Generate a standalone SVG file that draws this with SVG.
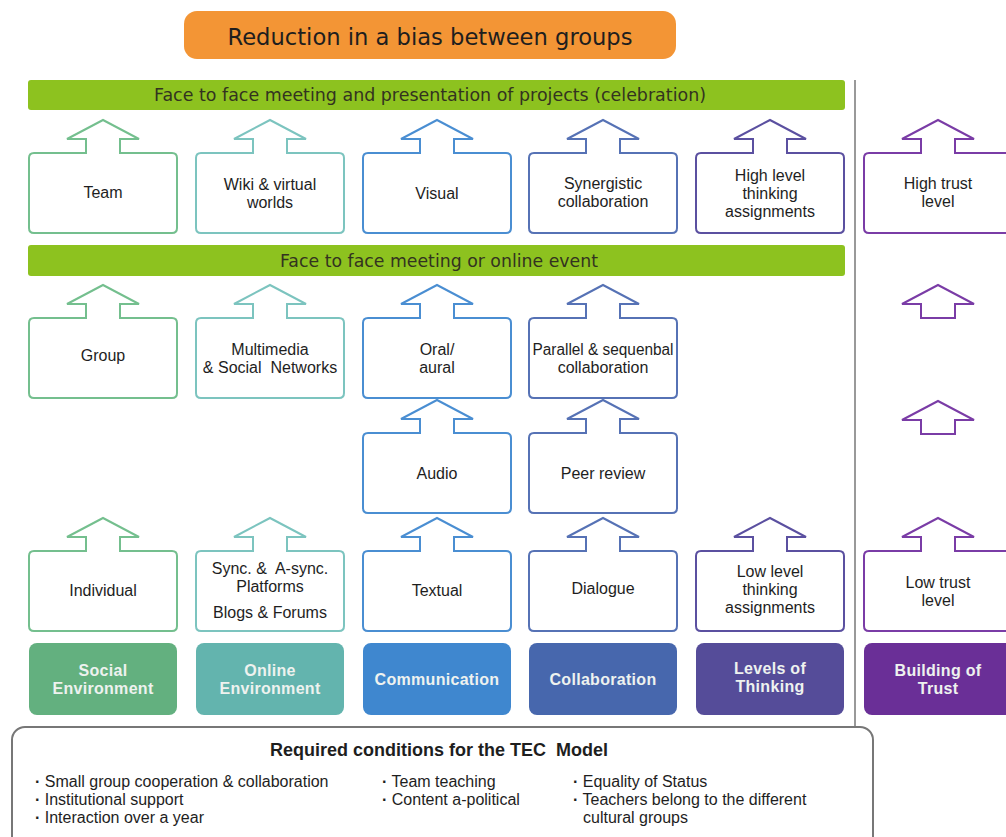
<svg xmlns="http://www.w3.org/2000/svg" width="1006" height="837" viewBox="0 0 1006 837">
<style>
.lbl{font-family:"Liberation Sans",Arial,sans-serif;font-size:16px;fill:#1e1e1e;text-anchor:middle}
.cat{font-family:"Liberation Sans",Arial,sans-serif;font-size:16px;font-weight:bold;fill:#eef2ef;text-anchor:middle;letter-spacing:0.3px}
.bar{font-family:"DejaVu Sans",Verdana,sans-serif;font-size:17px;fill:#33331f;text-anchor:middle}
.box{fill:#fff;stroke-width:2;stroke-linejoin:miter}
.c1{stroke:#74bf8e}.c2{stroke:#7cc4bf}.c3{stroke:#4a8ed2}.c4{stroke:#5672b5}.c5{stroke:#5b50a0}.c6{stroke:#7a3ca6}
.f1{fill:#63b07f}.f2{fill:#63b4ae}.f3{fill:#3f87cf}.f4{fill:#4767ad}.f5{fill:#554c99}.f6{fill:#6a2f97}
.cond{font-family:"Liberation Sans",Arial,sans-serif;font-size:16px;fill:#1e1e1e}
.bul{font-weight:bold}
</style>

<g id="title">
<rect x="184" y="11" width="492" height="48" rx="13" fill="#f39535"/>
<text x="430" y="45" font-family="DejaVu Sans, Verdana, sans-serif" font-size="23" fill="#1e1e1e" text-anchor="middle" textLength="405" lengthAdjust="spacingAndGlyphs">Reduction in a bias between groups</text>
</g>

<g id="bar-celebration">
<rect x="28" y="80" width="817" height="30" rx="3" fill="#8dc21f"/>
<text class="bar" x="430" y="101" textLength="552" lengthAdjust="spacingAndGlyphs">Face to face meeting and presentation of projects (celebration)</text>
</g>
<g id="bar-event">
<rect x="28" y="245" width="817" height="31" rx="3" fill="#8dc21f"/>
<text class="bar" x="439" y="267" textLength="318" lengthAdjust="spacingAndGlyphs">Face to face meeting or online event</text>
</g>

<line id="divider" x1="855" y1="80" x2="855" y2="727" stroke="#777" stroke-width="1.5"/>

<!-- Row 1 -->
<g id="team"><path class="box c1" d="M86,153 v-14 h-19 l36,-19 l36,19 h-19 v14 h52 q5,0 5,5 v70 q0,5 -5,5 h-138 q-5,0 -5,-5 v-70 q0,-5 5,-5 z"/><text class="lbl" x="103" y="198">Team</text></g>
<g id="wiki"><path class="box c2" d="M253,153 v-14 h-19 l36,-19 l36,19 h-19 v14 h52 q5,0 5,5 v70 q0,5 -5,5 h-138 q-5,0 -5,-5 v-70 q0,-5 5,-5 z"/><text class="lbl" x="270" y="190">Wiki &amp; virtual</text><text class="lbl" x="270" y="208">worlds</text></g>
<g id="visual"><path class="box c3" d="M420,153 v-14 h-19 l36,-19 l36,19 h-19 v14 h52 q5,0 5,5 v70 q0,5 -5,5 h-138 q-5,0 -5,-5 v-70 q0,-5 5,-5 z"/><text class="lbl" x="437" y="199">Visual</text></g>
<g id="synergistic"><path class="box c4" d="M586,153 v-14 h-19 l36,-19 l36,19 h-19 v14 h52 q5,0 5,5 v70 q0,5 -5,5 h-138 q-5,0 -5,-5 v-70 q0,-5 5,-5 z"/><text class="lbl" x="603" y="189">Synergistic</text><text class="lbl" x="603" y="207">collaboration</text></g>
<g id="high-thinking"><path class="box c5" d="M753,153 v-14 h-19 l36,-19 l36,19 h-19 v14 h52 q5,0 5,5 v70 q0,5 -5,5 h-138 q-5,0 -5,-5 v-70 q0,-5 5,-5 z"/><text class="lbl" x="770" y="181">High level</text><text class="lbl" x="770" y="199">thinking</text><text class="lbl" x="770" y="217">assignments</text></g>
<g id="high-trust"><path class="box c6" d="M921,153 v-14 h-19 l36,-19 l36,19 h-19 v14 h52 q5,0 5,5 v70 q0,5 -5,5 h-138 q-5,0 -5,-5 v-70 q0,-5 5,-5 z"/><text class="lbl" x="938" y="189">High trust</text><text class="lbl" x="938" y="207">level</text></g>

<!-- Row 2 -->
<g id="group"><path class="box c1" d="M86,318 v-14 h-19 l36,-19 l36,19 h-19 v14 h52 q5,0 5,5 v70 q0,5 -5,5 h-138 q-5,0 -5,-5 v-70 q0,-5 5,-5 z"/><text class="lbl" x="103" y="361">Group</text></g>
<g id="multimedia"><path class="box c2" d="M253,318 v-14 h-19 l36,-19 l36,19 h-19 v14 h52 q5,0 5,5 v70 q0,5 -5,5 h-138 q-5,0 -5,-5 v-70 q0,-5 5,-5 z"/><text class="lbl" x="270" y="355">Multimedia</text><text class="lbl" x="270" y="373" style="white-space:pre">&amp; Social  Networks</text></g>
<g id="oral"><path class="box c3" d="M420,318 v-14 h-19 l36,-19 l36,19 h-19 v14 h52 q5,0 5,5 v70 q0,5 -5,5 h-138 q-5,0 -5,-5 v-70 q0,-5 5,-5 z"/><text class="lbl" x="437" y="355">Oral/</text><text class="lbl" x="437" y="373">aural</text></g>
<g id="parallel"><path class="box c4" d="M586,318 v-14 h-19 l36,-19 l36,19 h-19 v14 h52 q5,0 5,5 v70 q0,5 -5,5 h-138 q-5,0 -5,-5 v-70 q0,-5 5,-5 z"/><text class="lbl" x="603" y="355" textLength="141" lengthAdjust="spacingAndGlyphs">Parallel &amp; sequenbal</text><text class="lbl" x="603" y="373">collaboration</text></g>

<!-- Row 3 -->
<g id="audio"><path class="box c3" d="M420,433 v-14 h-19 l36,-19 l36,19 h-19 v14 h52 q5,0 5,5 v70 q0,5 -5,5 h-138 q-5,0 -5,-5 v-70 q0,-5 5,-5 z"/><text class="lbl" x="437" y="479">Audio</text></g>
<g id="peer-review"><path class="box c4" d="M586,433 v-14 h-19 l36,-19 l36,19 h-19 v14 h52 q5,0 5,5 v70 q0,5 -5,5 h-138 q-5,0 -5,-5 v-70 q0,-5 5,-5 z"/><text class="lbl" x="603" y="479">Peer review</text></g>

<!-- Row 4 -->
<g id="individual"><path class="box c1" d="M86,551 v-14 h-19 l36,-19 l36,19 h-19 v14 h52 q5,0 5,5 v70 q0,5 -5,5 h-138 q-5,0 -5,-5 v-70 q0,-5 5,-5 z"/><text class="lbl" x="103" y="596">Individual</text></g>
<g id="sync"><path class="box c2" d="M253,551 v-14 h-19 l36,-19 l36,19 h-19 v14 h52 q5,0 5,5 v70 q0,5 -5,5 h-138 q-5,0 -5,-5 v-70 q0,-5 5,-5 z"/><text class="lbl" x="270" y="574" style="white-space:pre">Sync. &amp;  A-sync.</text><text class="lbl" x="270" y="592">Platforms</text><text class="lbl" x="270" y="618">Blogs &amp; Forums</text></g>
<g id="textual"><path class="box c3" d="M420,551 v-14 h-19 l36,-19 l36,19 h-19 v14 h52 q5,0 5,5 v70 q0,5 -5,5 h-138 q-5,0 -5,-5 v-70 q0,-5 5,-5 z"/><text class="lbl" x="437" y="596">Textual</text></g>
<g id="dialogue"><path class="box c4" d="M586,551 v-14 h-19 l36,-19 l36,19 h-19 v14 h52 q5,0 5,5 v70 q0,5 -5,5 h-138 q-5,0 -5,-5 v-70 q0,-5 5,-5 z"/><text class="lbl" x="603" y="594">Dialogue</text></g>
<g id="low-thinking"><path class="box c5" d="M753,551 v-14 h-19 l36,-19 l36,19 h-19 v14 h52 q5,0 5,5 v70 q0,5 -5,5 h-138 q-5,0 -5,-5 v-70 q0,-5 5,-5 z"/><text class="lbl" x="770" y="577">Low level</text><text class="lbl" x="770" y="595">thinking</text><text class="lbl" x="770" y="613">assignments</text></g>
<g id="low-trust"><path class="box c6" d="M921,551 v-14 h-19 l36,-19 l36,19 h-19 v14 h52 q5,0 5,5 v70 q0,5 -5,5 h-138 q-5,0 -5,-5 v-70 q0,-5 5,-5 z"/><text class="lbl" x="938" y="588">Low trust</text><text class="lbl" x="938" y="606">level</text></g>

<!-- connectors: standalone trust arrows -->
<g id="connectors">
<path class="box c6" d="M921,318 v-14 h-19 l36,-19 l36,19 h-19 v14 z"/>
<path class="box c6" d="M921,434 v-14 h-19 l36,-19 l36,19 h-19 v14 z"/>
</g>

<!-- Categories -->
<g id="cat-social"><rect class="f1" x="29" y="643" width="148" height="72" rx="8"/><text class="cat" x="103" y="676">Social</text><text class="cat" x="103" y="694">Environment</text></g>
<g id="cat-online"><rect class="f2" x="196" y="643" width="148" height="72" rx="8"/><text class="cat" x="270" y="676">Online</text><text class="cat" x="270" y="694">Environment</text></g>
<g id="cat-communication"><rect class="f3" x="363" y="643" width="148" height="72" rx="8"/><text class="cat" x="437" y="685">Communication</text></g>
<g id="cat-collaboration"><rect class="f4" x="529" y="643" width="148" height="72" rx="8"/><text class="cat" x="603" y="685">Collaboration</text></g>
<g id="cat-thinking"><rect class="f5" x="696" y="643" width="148" height="72" rx="8"/><text class="cat" x="770" y="674">Levels of</text><text class="cat" x="770" y="692">Thinking</text></g>
<g id="cat-trust"><rect class="f6" x="864" y="643" width="160" height="72" rx="8"/><text class="cat" x="938" y="676">Building of</text><text class="cat" x="938" y="694">Trust</text></g>

<!-- Conditions -->
<g id="conditions">
<rect x="12" y="727" width="861" height="130" rx="13" fill="#fff" stroke="#777" stroke-width="2"/>
<text x="439" y="756" font-family="Liberation Sans, Arial, sans-serif" font-size="18" font-weight="bold" fill="#1e1e1e" text-anchor="middle" style="white-space:pre">Required conditions for the TEC  Model</text>
<text class="cond" x="35" y="787"><tspan class="bul">·</tspan> Small group cooperation &amp; collaboration</text>
<text class="cond" x="35" y="805"><tspan class="bul">·</tspan> Institutional support</text>
<text class="cond" x="35" y="823"><tspan class="bul">·</tspan> Interaction over a year</text>
<text class="cond" x="382" y="787"><tspan class="bul">·</tspan> Team teaching</text>
<text class="cond" x="382" y="805"><tspan class="bul">·</tspan> Content a-political</text>
<text class="cond" x="573" y="787"><tspan class="bul">·</tspan> Equality of Status</text>
<text class="cond" x="573" y="805"><tspan class="bul">·</tspan> Teachers belong to the different</text>
<text class="cond" x="583" y="823">cultural groups</text>
</g>
</svg>
